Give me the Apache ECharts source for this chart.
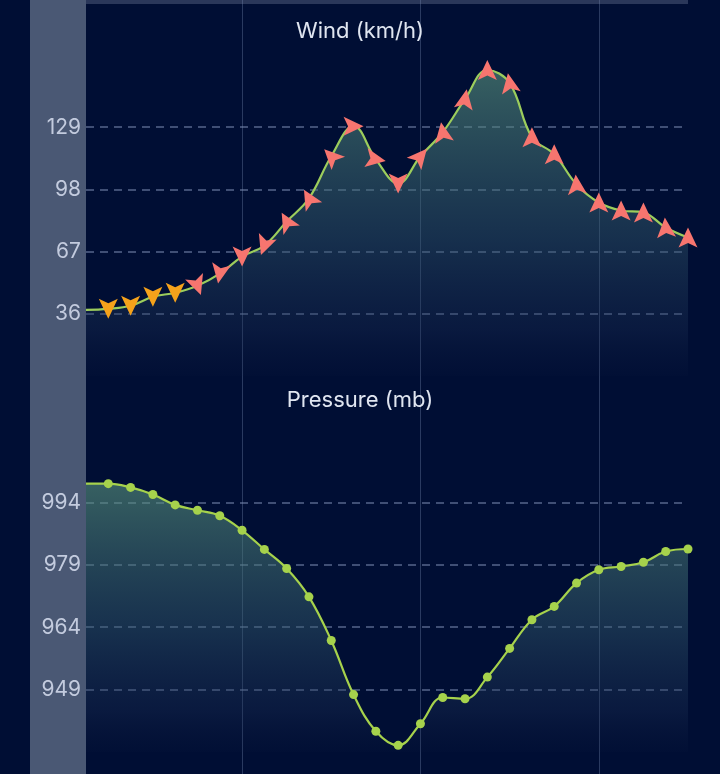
<!DOCTYPE html>
<html lang="en">
  <head>
    <meta charset="UTF-8" />
    <title>Wind &amp; Pressure</title>
    <script src="https://cdn.jsdelivr.net/npm/echarts@6/dist/echarts.min.js"></script>
    <style>
      html, body { margin: 0; padding: 0; background: #000e34; }
    </style>
  </head>
  <body>
    <div id="main" style="width: 720px; height: 774px"></div>
    <script>
      // 3-hourly steps, day boundary at 00:00
      var hours = [
        '03:00', '06:00', '09:00', '12:00', '15:00', '18:00', '21:00',
        '00:00', '03:00', '06:00', '09:00', '12:00', '15:00', '18:00', '21:00',
        '00:00', '03:00', '06:00', '09:00', '12:00', '15:00', '18:00', '21:00',
        '00:00', '03:00', '06:00', '09:00', '12:00'
      ];
      // wind speed, km/h
      var windSpeed = [
        38, 38.5, 40, 44.5, 46.5, 50, 56, 64.5, 70, 82, 93.5, 114.5, 129.5, 113,
        101, 114.5, 126.5, 143, 157.5, 151, 124, 115.5, 100.5, 91.5, 87.5, 86.5, 79, 74
      ];
      // arrow rotation (deg, counter-clockwise from up)
      var windDir = [
        180, 180, 180, 180, 180, 200, 170, 180, 160, 30, 30, 45, -90, -100,
        180, -40, 10, -10, 0, 10, 0, 0, 5, 0, 0, 0, 5, 0
      ];
      // pressure, mb
      var pressure = [
        998.5, 998.5, 997.6, 995.9, 993.4, 992.1, 990.8, 987.3, 982.7, 978.1,
        971.3, 960.8, 947.8, 939, 935.6, 940.8, 947.1, 946.8, 952, 958.9,
        965.8, 969, 974.6, 977.8, 978.6, 979.6, 982.2, 982.8
      ];

      var chart = echarts.init(document.getElementById('main'));
      var font = 'Inter, "Noto Sans", sans-serif';
      // arrow head, tip up, shallow notch at the back
      var arrowPath = 'path://M0,0 L9,20 L0,15.5 L-9,20 Z';

      function areaFill() {
        return new echarts.graphic.LinearGradient(0, 0, 0, 1, [
          { offset: 0, color: 'rgba(92,152,128,0.85)' },
          { offset: 0.55, color: 'rgba(52,92,110,0.62)' },
          { offset: 0.85, color: 'rgba(30,50,86,0.45)' },
          { offset: 1, color: 'rgba(20,35,70,0.1)' },
        ]);
      }

      var windData = windSpeed.map(function (v, i) {
        var item = { value: v, symbolRotate: windDir[i] };
        if (i === 0) item.symbol = 'none';
        return item;
      });
      var pressureData = pressure.map(function (v, i) {
        return i === 0 ? { value: v, symbol: 'none' } : v;
      });

      var valueAxisBase = {
        axisLine: { show: false },
        axisTick: { show: false },
        axisLabel: {
          color: '#c3cbde',
          fontSize: 21,
          fontFamily: font,
          margin: 5,
          showMinLabel: false,
          showMaxLabel: false,
        },
        splitLine: {
          showMinLine: false,
          showMaxLine: false,
          lineStyle: { color: '#56658a', type: [8, 6], width: 1.5 },
        },
      };

      var option = {
        backgroundColor: '#000e34',
        animation: false,
        graphic: [
          // left label band
          { type: 'rect', left: 30, top: 0, shape: { width: 56, height: 774 }, style: { fill: '#4a5874' }, z: -10 },
          // top strip
          { type: 'rect', left: 86, top: 0, shape: { width: 602, height: 4 }, style: { fill: '#2a375a' }, z: -10 },
        ],
        title: [
          {
            text: 'Wind (km/h)',
            left: 'center',
            top: 15,
            textStyle: { color: '#dfe5f0', fontSize: 22, fontWeight: 'normal', fontFamily: font },
          },
          {
            text: 'Pressure (mb)',
            left: 'center',
            top: 384,
            textStyle: { color: '#dfe5f0', fontSize: 22, fontWeight: 'normal', fontFamily: font },
          },
        ],
        grid: [
          { left: 86, right: 32, top: 65, height: 311 },
          { left: 86, right: 32, top: 440, height: 312 },
          // full-height grid just for the day lines
          { left: 86, right: 32, top: 0, bottom: 0 },
        ],
        xAxis: [
          { gridIndex: 0, type: 'category', data: hours, boundaryGap: false, show: false },
          { gridIndex: 1, type: 'category', data: hours, boundaryGap: false, show: false },
          {
            gridIndex: 2,
            type: 'category',
            data: hours,
            boundaryGap: false,
            axisLine: { show: false },
            axisTick: { show: false },
            axisLabel: { show: false },
            splitLine: {
              show: true,
              interval: function (index) {
                return index % 8 === 7;
              },
              lineStyle: { color: 'rgba(120,140,180,0.35)', width: 1 },
            },
          },
        ],
        yAxis: [
          Object.assign({ gridIndex: 0, type: 'value', min: 5, max: 160, interval: 31 }, valueAxisBase),
          Object.assign({ gridIndex: 1, type: 'value', min: 934, max: 1009, interval: 15 }, valueAxisBase),
          { gridIndex: 2, type: 'value', show: false, min: 0, max: 1 },
        ],
        series: [
          {
            name: 'Wind',
            type: 'line',
            xAxisIndex: 0,
            yAxisIndex: 0,
            data: windData,
            smooth: 0.4,
            symbol: arrowPath,
            symbolSize: [19, 20],
            showAllSymbol: true,
            lineStyle: { color: '#9ccd5c', width: 2.2 },
            itemStyle: {
              color: function (p) {
                return p.value < 48 ? '#f5a21b' : '#f7756f';
              },
            },
            areaStyle: { color: areaFill() },
            z: 3,
          },
          {
            name: 'Pressure',
            type: 'line',
            xAxisIndex: 1,
            yAxisIndex: 1,
            data: pressureData,
            smooth: 0.4,
            symbol: 'circle',
            symbolSize: 9,
            showAllSymbol: true,
            lineStyle: { color: '#a6d24c', width: 2.2 },
            itemStyle: { color: '#a6d24c' },
            areaStyle: { color: areaFill() },
            z: 3,
          },
        ],
      };

      chart.setOption(option);
    </script>
  </body>
</html>
